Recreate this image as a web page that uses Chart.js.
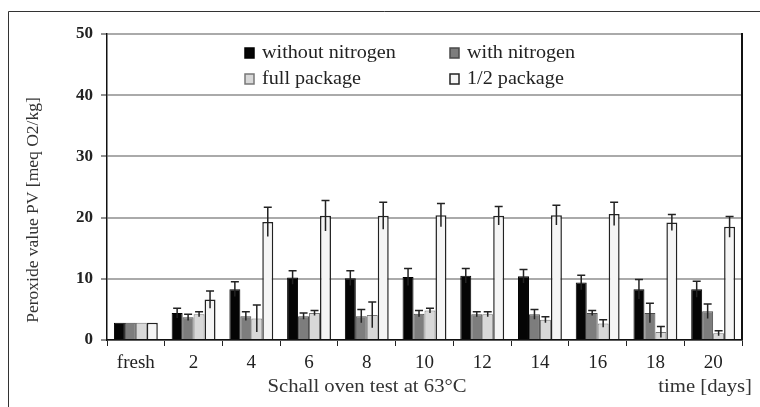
<!DOCTYPE html>
<html>
<head>
<meta charset="utf-8">
<script src="https://cdn.jsdelivr.net/npm/chart.js@4/dist/chart.umd.min.js"></script>
<style>
  html, body { margin: 0; padding: 0; background: #fff; }
  #wrap { width: 760px; height: 407px; position: relative; }
</style>
</head>
<body>
<div id="wrap"><canvas id="pvChart" width="760" height="407"></canvas></div>
<script>
const days = ["fresh", "2", "4", "6", "8", "10", "12", "14", "16", "18", "20"];

const withoutN = [2.8, 4.4, 8.3, 10.2, 10.1, 10.3, 10.5, 10.4, 9.4, 8.3, 8.3];
const withoutNErr = [0, 0.8, 1.2, 1.1, 1.2, 1.4, 1.2, 1.1, 1.2, 1.6, 1.3];

const withN = [2.8, 3.7, 3.9, 3.9, 3.9, 4.3, 4.2, 4.2, 4.4, 4.4, 4.7];
const withNErr = [0, 0.5, 0.7, 0.5, 1.1, 0.5, 0.4, 0.8, 0.4, 1.6, 1.2];

const fullPkg = [2.8, 4.2, 3.5, 4.4, 4.1, 4.8, 4.2, 3.3, 2.7, 1.3, 1.1];
const fullPkgErr = [0, 0.4, 2.2, 0.4, 2.1, 0.4, 0.4, 0.5, 0.6, 0.9, 0.4];

const halfPkg = [2.8, 6.6, 19.3, 20.3, 20.3, 20.4, 20.3, 20.4, 20.6, 19.2, 18.5];
const halfPkgErr = [0, 1.4, 2.4, 2.5, 2.2, 1.9, 1.5, 1.6, 1.9, 1.3, 1.7];

const yTicks = [0, 10, 20, 30, 40, 50];

const serif = "'Liberation Serif', 'DejaVu Serif', serif";

// text a bit wider than the font, like the scanned original
function wideText(ctx, text, x, y, sx) {
  ctx.save();
  ctx.translate(x, y);
  ctx.scale(sx, 1);
  ctx.fillText(text, 0, 0);
  ctx.restore();
}

// error bars, legend, titles and frame
const extras = {
  id: "extras",
  afterDatasetsDraw(chart) {
    const ctx = chart.ctx;
    const ys = chart.scales.y;
    ctx.save();
    ctx.strokeStyle = "#222";
    ctx.lineWidth = 1.5;
    chart.data.datasets.forEach((ds, i) => {
      const meta = chart.getDatasetMeta(i);
      meta.data.forEach((bar, j) => {
        const e = ds.errors[j];
        if (!e) return;
        const top = ys.getPixelForValue(ds.data[j] + e);
        const bot = ys.getPixelForValue(ds.data[j] - e);
        ctx.beginPath();
        ctx.moveTo(bar.x, bot);
        ctx.lineTo(bar.x, top);
        ctx.moveTo(bar.x - 4, top);
        ctx.lineTo(bar.x + 4, top);
        ctx.stroke();
      });
    });
    ctx.restore();
  },
  afterDraw(chart) {
    const ctx = chart.ctx;
    const a = chart.chartArea;
    ctx.save();

    // right border of plot
    ctx.strokeStyle = "#111";
    ctx.lineWidth = 2;
    ctx.beginPath();
    ctx.moveTo(a.right, a.top - 1);
    ctx.lineTo(a.right, a.bottom);
    ctx.stroke();

    // outer frame (top and left visible)
    ctx.strokeStyle = "#333";
    ctx.lineWidth = 1;
    ctx.beginPath();
    ctx.moveTo(8.5, 407);
    ctx.lineTo(8.5, 11.5);
    ctx.lineTo(760, 11.5);
    ctx.stroke();

    // legend
    ctx.font = "18px " + serif;
    ctx.textBaseline = "middle";
    ctx.textAlign = "left";
    const spots = [[245, 53], [450, 53], [245, 79], [450, 79]];
    chart.data.datasets.forEach((ds, i) => {
      const [x, y] = spots[i];
      ctx.fillStyle = ds.backgroundColor;
      ctx.fillRect(x, y - 5, 9, 10);
      ctx.strokeStyle = ds.borderColor;
      ctx.lineWidth = 1.5;
      ctx.strokeRect(x, y - 5, 9, 10);
      ctx.fillStyle = "#222";
      wideText(ctx, ds.label, x + 17, y, 1.12);
    });

    // axis titles
    ctx.fillStyle = "#333";
    ctx.font = "18px " + serif;
    ctx.textAlign = "center";
    wideText(ctx, "Schall oven test at 63°C", 367, 387, 1.15);
    ctx.textAlign = "right";
    wideText(ctx, "time [days]", 752, 387, 1.15);

    ctx.font = "17px " + serif;
    ctx.translate(34, 210);
    ctx.rotate(-Math.PI / 2);
    ctx.textAlign = "center";
    wideText(ctx, "Peroxide value PV [meq O2/kg]", 0, 0, 1.03);
    ctx.restore();
  }
};

new Chart(document.getElementById("pvChart"), {
  type: "bar",
  data: {
    labels: days,
    datasets: [
      { label: "without nitrogen", data: withoutN, errors: withoutNErr,
        backgroundColor: "#050505", borderColor: "#000", borderWidth: 1 },
      { label: "with nitrogen", data: withN, errors: withNErr,
        backgroundColor: "#7d7d7d", borderColor: "#4a4a4a", borderWidth: 1 },
      { label: "full package", data: fullPkg, errors: fullPkgErr,
        backgroundColor: "#d8d8d8", borderColor: "#777", borderWidth: 1 },
      { label: "1/2 package", data: halfPkg, errors: halfPkgErr,
        backgroundColor: "#f5f5f5", borderColor: "#222", borderWidth: 1.5 }
    ]
  },
  options: {
    responsive: false,
    animation: false,
    layout: { padding: { left: 0, right: 18, top: 34, bottom: 0 } },
    datasets: { bar: { barPercentage: 1, categoryPercentage: 0.76 } },
    plugins: { legend: { display: false }, tooltip: { enabled: false } },
    scales: {
      x: {
        offset: true,
        afterFit(s) { s.height = 67; },
        grid: { offset: true, drawOnChartArea: false, tickLength: 6, tickColor: "#222", tickWidth: 1 },
        border: { color: "#111", width: 1.5 },
        ticks: { color: "#222", font: { family: serif, size: 19 }, padding: 6 }
      },
      y: {
        min: 0,
        max: 50,
        afterFit(s) { s.width = 107; },
        afterBuildTicks(s) { s.ticks = yTicks.map(v => ({ value: v })); },
        grid: { color: "#aaa", lineWidth: 2, tickLength: 6, tickColor: "#222", tickWidth: 1 },
        border: { color: "#111", width: 1.5 },
        ticks: { color: "#222", font: { family: serif, size: 17, weight: "bold" }, padding: 8 }
      }
    }
  },
  plugins: [extras]
});
</script>
</body>
</html>
